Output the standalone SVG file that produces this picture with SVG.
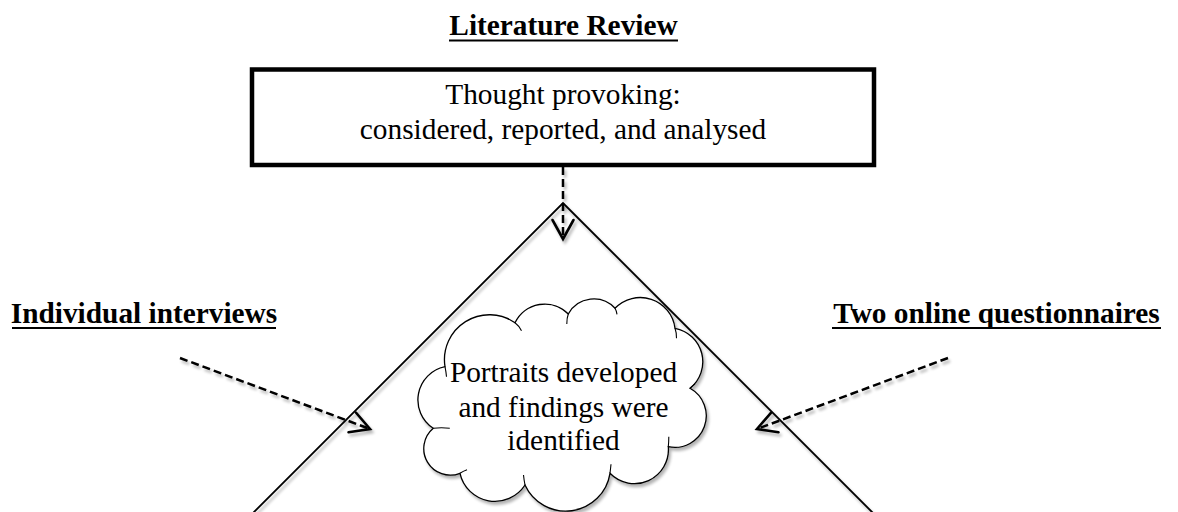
<svg xmlns="http://www.w3.org/2000/svg" width="1178" height="512" viewBox="0 0 1178 512">
  <style>
    .lbl { font-family: "Liberation Serif", "Times New Roman", serif; font-size: 29.33px; fill: #000; text-anchor: middle; }
    .bold { font-weight: bold; }
    .uline { stroke: #000; stroke-width: 2.2; }
    .dash { fill: none; stroke: #000; stroke-width: 2.5; stroke-dasharray: 8 4; }
    .side { fill: none; stroke: #000; stroke-width: 1.8; }
  </style>
  <defs>
    <filter id="shadow" filterUnits="userSpaceOnUse" x="0" y="0" width="1178" height="512">
      <feGaussianBlur in="SourceAlpha" stdDeviation="1.6"/>
      <feOffset dx="2" dy="3"/>
      <feComponentTransfer><feFuncA type="linear" slope="0.3"/></feComponentTransfer>
      <feMerge><feMergeNode/><feMergeNode in="SourceGraphic"/></feMerge>
    </filter>
    <marker id="vee" markerUnits="userSpaceOnUse" viewBox="-25 -15 30 30" markerWidth="30" markerHeight="30" refX="0" refY="0" orient="auto" overflow="visible">
      <path d="M-19,-10.5 L0,0 L-19,10.5" fill="none" stroke="#000" stroke-width="2.6" stroke-linecap="round" stroke-linejoin="miter"/>
    </marker>
  </defs>
  <rect width="1178" height="512" fill="#fff"/>

  <!-- heading above the box -->
  <g id="title">
    <text class="lbl bold" x="563.5" y="35">Literature Review</text>
    <line class="uline" x1="449" y1="40.5" x2="678" y2="40.5"/>
  </g>

  <!-- thick framed box -->
  <g id="box">
    <rect x="252" y="69.5" width="622" height="95.5" fill="#fff" stroke="#000" stroke-width="4.5"/>
    <text class="lbl" x="563" y="104">Thought provoking:</text>
    <text class="lbl" x="563" y="139">considered, reported, and analysed</text>
  </g>

  <!-- side headings -->
  <g id="interviews">
    <text class="lbl bold" x="144" y="323">Individual interviews</text>
    <line class="uline" x1="12" y1="328" x2="276" y2="328"/>
  </g>
  <g id="questionnaires">
    <text class="lbl bold" x="996.5" y="323">Two online questionnaires</text>
    <line class="uline" x1="832" y1="328" x2="1161" y2="328"/>
  </g>

  <!-- cloud -->
  <g id="cloud">
    <path filter="url(#shadow)" fill="#fff" stroke="#000" stroke-width="1.3" d="M445,366.7 A45,45 0 0 1 515,322.7 A33,33 0 0 1 568.3,314 A29,29 0 0 1 615,308.3 A35,35 0 0 1 675,328.3 A34,34 0 0 1 690,388.3 A31.5,31.5 0 0 1 668.3,446.7 A34,34 0 0 1 610,473.3 A44.8,44.8 0 0 1 525,485 A35.8,35.8 0 0 1 460,473.3 A26.5,26.5 0 0 1 433.3,428.3 A33.9,33.9 0 0 1 445,366.7 Z"/>
    <g fill="none" stroke="#000" stroke-width="1.1">
      <path d="M515,322.7 q4,3 6.5,8"/>
      <path d="M568.3,314 q-1.5,4 -1.5,10"/>
      <path d="M615,308.3 q1.5,2.5 2,6"/>
      <path d="M675,328.3 q1.5,4 1.5,10"/>
      <path d="M690,388.3 q3,-3 5,-4.5"/>
      <path d="M668.3,446.7 q0.5,-5 0.5,-10"/>
      <path d="M610,473.3 q0.5,-4 1,-9"/>
      <path d="M525,485 q-1,-5 -1.5,-10"/>
      <path d="M460,473.3 q3,-2 7,-3.5"/>
      <path d="M433.3,428.3 q8,-1 16.5,0"/>
      <path d="M445,366.7 q1,5 1.5,10"/>
    </g>
    <text class="lbl" x="563.5" y="382">Portraits developed</text>
    <text class="lbl" x="563.5" y="416.5">and findings were</text>
    <text class="lbl" x="563.5" y="450">identified</text>
  </g>

  <!-- the two sides of the triangle -->
  <g id="triangle" filter="url(#shadow)">
    <polyline class="side" points="250,516 563,203 876,516"/>
  </g>

  <!-- dashed arrows -->
  <g id="connectors" filter="url(#shadow)">
    <line class="dash" x1="563" y1="167" x2="563" y2="239" marker-end="url(#vee)"/>
    <line class="dash" x1="180" y1="358" x2="370" y2="429" marker-end="url(#vee)"/>
    <line class="dash" x1="948" y1="358" x2="757" y2="429" marker-end="url(#vee)"/>
  </g>
</svg>
